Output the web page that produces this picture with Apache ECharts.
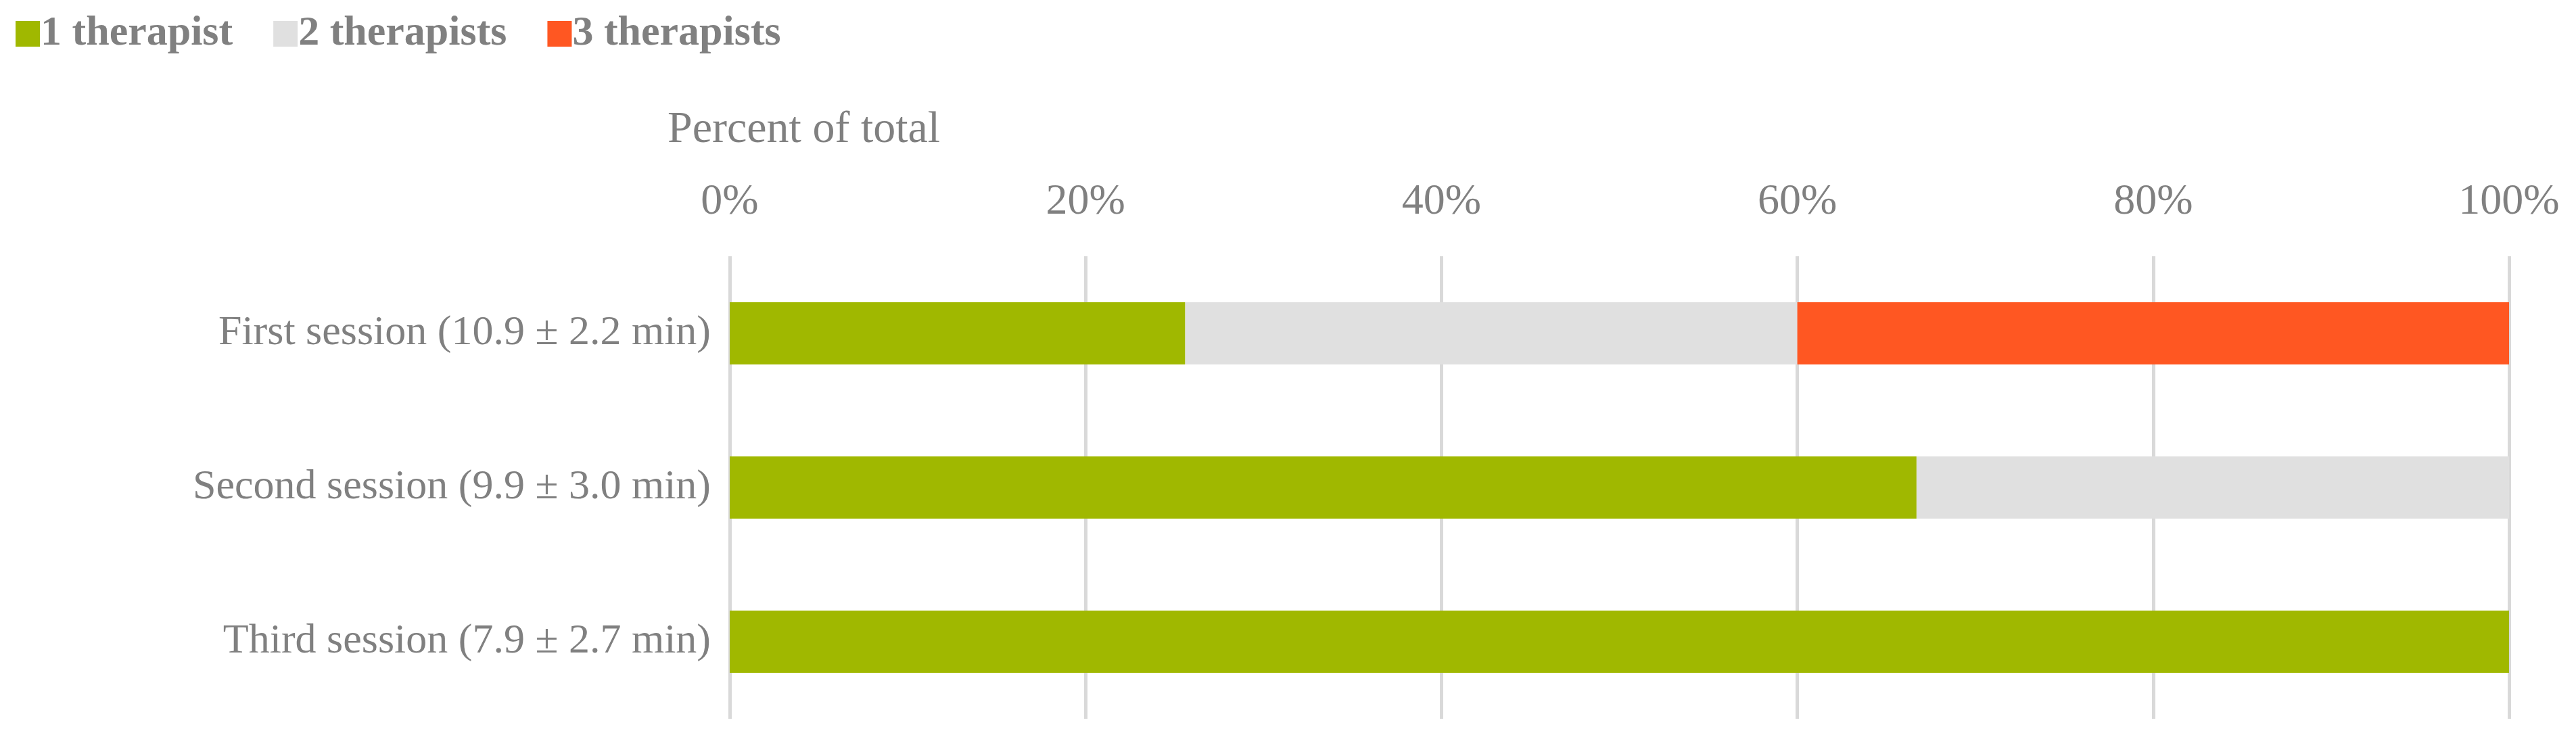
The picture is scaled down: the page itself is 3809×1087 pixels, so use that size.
<!DOCTYPE html>
<html>
<head>
<meta charset="utf-8">
<script src="https://cdn.jsdelivr.net/npm/echarts@6/dist/echarts.min.js"></script>
<style>html,body{margin:0;padding:0;background:#fff}#chart{width:3809px;height:1087px}</style>
</head>
<body>
<div id="chart"></div>
<script>
const categories = ['First session (10.9 ± 2.2 min)', 'Second session (9.9 ± 3.0 min)', 'Third session (7.9 ± 2.7 min)'];
const oneTherapist = [25.6, 66.7, 100];
const twoTherapists = [34.4, 33.3, 0];
const threeTherapists = [40, 0, 0];
const xTicks = [0, 20, 40, 60, 80, 100];

const colors = { one: '#A0B800', two: '#E0E0E0', three: '#FF5722', text: '#808080', grid: '#D9D9D9' };
const font = '"Liberation Serif", "DejaVu Serif", serif';

const chart = echarts.init(document.getElementById('chart'));
const bar = (name, data, color) => ({
  name, type: 'bar', stack: 'total', data, barWidth: 92,
  itemStyle: { color }, emphasis: { disabled: true }
});
chart.setOption({
  animation: false,
  textStyle: { fontFamily: font, color: colors.text },
  title: {
    text: 'Percent of total', left: 982, top: 155,
    textStyle: { fontFamily: font, fontWeight: 'normal', fontSize: 66, color: colors.text }
  },
  legend: {
    left: 18, top: 14, icon: 'rect', itemWidth: 36, itemHeight: 38, itemGap: 60,
    textStyle: { fontFamily: font, fontWeight: 'bold', fontSize: 62, color: colors.text, padding: [0, 0, 0, -4] },
    data: ['1 therapist', '2 therapists', '3 therapists']
  },
  grid: { left: 1079, right: 99, top: 379, bottom: 24 },
  xAxis: {
    type: 'value', position: 'top', min: xTicks[0], max: xTicks[xTicks.length - 1], interval: 20,
    axisLine: { show: false }, axisTick: { show: false },
    axisLabel: { formatter: '{value}%', fontSize: 64, color: colors.text, margin: 48, fontFamily: font },
    splitLine: { lineStyle: { color: colors.grid, width: 5 } }
  },
  yAxis: {
    type: 'category', inverse: true, data: categories,
    axisLine: { show: false }, axisTick: { show: false },
    axisLabel: { fontSize: 62, color: colors.text, margin: 28, fontFamily: font }
  },
  series: [
    bar('1 therapist', oneTherapist, colors.one),
    bar('2 therapists', twoTherapists, colors.two),
    bar('3 therapists', threeTherapists, colors.three)
  ]
});
</script>
</body>
</html>
